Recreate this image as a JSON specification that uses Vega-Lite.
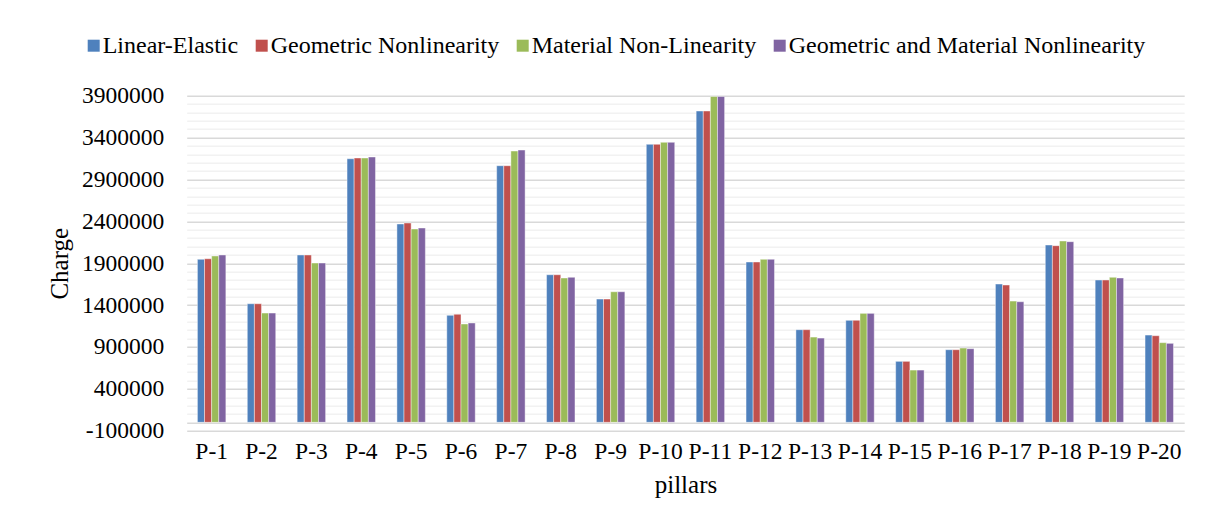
{
  "$schema": "https://vega.github.io/schema/vega-lite/v6.json",
  "autosize": {"type": "none"},
  "width": 997.5,
  "height": 335,
  "padding": {"left": 186.7, "top": 95.7, "right": 23.8, "bottom": 95.3},
  "background": "white",
  "config": {
    "font": "Liberation Serif",
    "view": {"stroke": null},
    "axis": {"labelFont": "Liberation Serif", "titleFont": "Liberation Serif", "labelColor": "#000000", "titleColor": "#000000", "titleFontWeight": "normal"},
    "legend": {"labelFont": "Liberation Serif", "labelColor": "#000000"}
  },
  "data": {
    "values": [
      {"pillar": "P-1", "model": "Linear-Elastic", "charge": 1946000},
      {"pillar": "P-1", "model": "Geometric Nonlinearity", "charge": 1953000},
      {"pillar": "P-1", "model": "Material Non-Linearity", "charge": 1986000},
      {"pillar": "P-1", "model": "Geometric and Material Nonlinearity", "charge": 1998000},
      {"pillar": "P-2", "model": "Linear-Elastic", "charge": 1416000},
      {"pillar": "P-2", "model": "Geometric Nonlinearity", "charge": 1416000},
      {"pillar": "P-2", "model": "Material Non-Linearity", "charge": 1305000},
      {"pillar": "P-2", "model": "Geometric and Material Nonlinearity", "charge": 1305000},
      {"pillar": "P-3", "model": "Linear-Elastic", "charge": 1998000},
      {"pillar": "P-3", "model": "Geometric Nonlinearity", "charge": 1998000},
      {"pillar": "P-3", "model": "Material Non-Linearity", "charge": 1902000},
      {"pillar": "P-3", "model": "Geometric and Material Nonlinearity", "charge": 1902000},
      {"pillar": "P-4", "model": "Linear-Elastic", "charge": 3147000},
      {"pillar": "P-4", "model": "Geometric Nonlinearity", "charge": 3156000},
      {"pillar": "P-4", "model": "Material Non-Linearity", "charge": 3156000},
      {"pillar": "P-4", "model": "Geometric and Material Nonlinearity", "charge": 3168000},
      {"pillar": "P-5", "model": "Linear-Elastic", "charge": 2368000},
      {"pillar": "P-5", "model": "Geometric Nonlinearity", "charge": 2380000},
      {"pillar": "P-5", "model": "Material Non-Linearity", "charge": 2308000},
      {"pillar": "P-5", "model": "Geometric and Material Nonlinearity", "charge": 2320000},
      {"pillar": "P-6", "model": "Linear-Elastic", "charge": 1278000},
      {"pillar": "P-6", "model": "Geometric Nonlinearity", "charge": 1290000},
      {"pillar": "P-6", "model": "Material Non-Linearity", "charge": 1174000},
      {"pillar": "P-6", "model": "Geometric and Material Nonlinearity", "charge": 1186000},
      {"pillar": "P-7", "model": "Linear-Elastic", "charge": 3064000},
      {"pillar": "P-7", "model": "Geometric Nonlinearity", "charge": 3064000},
      {"pillar": "P-7", "model": "Material Non-Linearity", "charge": 3239000},
      {"pillar": "P-7", "model": "Geometric and Material Nonlinearity", "charge": 3251000},
      {"pillar": "P-8", "model": "Linear-Elastic", "charge": 1762000},
      {"pillar": "P-8", "model": "Geometric Nonlinearity", "charge": 1762000},
      {"pillar": "P-8", "model": "Material Non-Linearity", "charge": 1723000},
      {"pillar": "P-8", "model": "Geometric and Material Nonlinearity", "charge": 1731000},
      {"pillar": "P-9", "model": "Linear-Elastic", "charge": 1472000},
      {"pillar": "P-9", "model": "Geometric Nonlinearity", "charge": 1472000},
      {"pillar": "P-9", "model": "Material Non-Linearity", "charge": 1559000},
      {"pillar": "P-9", "model": "Geometric and Material Nonlinearity", "charge": 1559000},
      {"pillar": "P-10", "model": "Linear-Elastic", "charge": 3319000},
      {"pillar": "P-10", "model": "Geometric Nonlinearity", "charge": 3319000},
      {"pillar": "P-10", "model": "Material Non-Linearity", "charge": 3343000},
      {"pillar": "P-10", "model": "Geometric and Material Nonlinearity", "charge": 3343000},
      {"pillar": "P-11", "model": "Linear-Elastic", "charge": 3717000},
      {"pillar": "P-11", "model": "Geometric Nonlinearity", "charge": 3717000},
      {"pillar": "P-11", "model": "Material Non-Linearity", "charge": 3890000},
      {"pillar": "P-11", "model": "Geometric and Material Nonlinearity", "charge": 3890000},
      {"pillar": "P-12", "model": "Linear-Elastic", "charge": 1914000},
      {"pillar": "P-12", "model": "Geometric Nonlinearity", "charge": 1914000},
      {"pillar": "P-12", "model": "Material Non-Linearity", "charge": 1946000},
      {"pillar": "P-12", "model": "Geometric and Material Nonlinearity", "charge": 1946000},
      {"pillar": "P-13", "model": "Linear-Elastic", "charge": 1106000},
      {"pillar": "P-13", "model": "Geometric Nonlinearity", "charge": 1106000},
      {"pillar": "P-13", "model": "Material Non-Linearity", "charge": 1018000},
      {"pillar": "P-13", "model": "Geometric and Material Nonlinearity", "charge": 1006000},
      {"pillar": "P-14", "model": "Linear-Elastic", "charge": 1218000},
      {"pillar": "P-14", "model": "Geometric Nonlinearity", "charge": 1218000},
      {"pillar": "P-14", "model": "Material Non-Linearity", "charge": 1301000},
      {"pillar": "P-14", "model": "Geometric and Material Nonlinearity", "charge": 1301000},
      {"pillar": "P-15", "model": "Linear-Elastic", "charge": 728000},
      {"pillar": "P-15", "model": "Geometric Nonlinearity", "charge": 728000},
      {"pillar": "P-15", "model": "Material Non-Linearity", "charge": 624000},
      {"pillar": "P-15", "model": "Geometric and Material Nonlinearity", "charge": 624000},
      {"pillar": "P-16", "model": "Linear-Elastic", "charge": 867000},
      {"pillar": "P-16", "model": "Geometric Nonlinearity", "charge": 867000},
      {"pillar": "P-16", "model": "Material Non-Linearity", "charge": 887000},
      {"pillar": "P-16", "model": "Geometric and Material Nonlinearity", "charge": 879000},
      {"pillar": "P-17", "model": "Linear-Elastic", "charge": 1651000},
      {"pillar": "P-17", "model": "Geometric Nonlinearity", "charge": 1639000},
      {"pillar": "P-17", "model": "Material Non-Linearity", "charge": 1448000},
      {"pillar": "P-17", "model": "Geometric and Material Nonlinearity", "charge": 1440000},
      {"pillar": "P-18", "model": "Linear-Elastic", "charge": 2117000},
      {"pillar": "P-18", "model": "Geometric Nonlinearity", "charge": 2109000},
      {"pillar": "P-18", "model": "Material Non-Linearity", "charge": 2165000},
      {"pillar": "P-18", "model": "Geometric and Material Nonlinearity", "charge": 2157000},
      {"pillar": "P-19", "model": "Linear-Elastic", "charge": 1699000},
      {"pillar": "P-19", "model": "Geometric Nonlinearity", "charge": 1699000},
      {"pillar": "P-19", "model": "Material Non-Linearity", "charge": 1731000},
      {"pillar": "P-19", "model": "Geometric and Material Nonlinearity", "charge": 1723000},
      {"pillar": "P-20", "model": "Linear-Elastic", "charge": 1042000},
      {"pillar": "P-20", "model": "Geometric Nonlinearity", "charge": 1034000},
      {"pillar": "P-20", "model": "Material Non-Linearity", "charge": 951000},
      {"pillar": "P-20", "model": "Geometric and Material Nonlinearity", "charge": 943000}
    ]
  },
  "mark": {"type": "bar", "stroke": "white", "strokeWidth": 0.6, "strokeOpacity": 0.7},
  "encoding": {
    "x": {
      "field": "pillar", "type": "nominal", "sort": null,
      "scale": {"paddingInner": 0.43, "paddingOuter": 0.215},
      "axis": {"title": "pillars", "labelAngle": 0, "labelFontSize": 23.5, "titleFontSize": 25, "ticks": false, "domain": false, "labelPadding": 9, "titlePadding": 9, "grid": false}
    },
    "xOffset": {
      "field": "model", "type": "nominal",
      "sort": ["Linear-Elastic", "Geometric Nonlinearity", "Material Non-Linearity", "Geometric and Material Nonlinearity"],
      "scale": {"paddingInner": 0, "paddingOuter": 0}
    },
    "y": {
      "field": "charge", "type": "quantitative",
      "scale": {"domain": [-100000, 3900000], "nice": false, "zero": false},
      "axis": {
        "title": "Charge", "titleFontSize": 25, "labelFontSize": 23.5, "ticks": false, "domain": false,
        "labelPadding": 23, "titlePadding": 9,
        "values": [-100000, 0, 100000, 200000, 300000, 400000, 500000, 600000, 700000, 800000, 900000, 1000000, 1100000, 1200000, 1300000, 1400000, 1500000, 1600000, 1700000, 1800000, 1900000, 2000000, 2100000, 2200000, 2300000, 2400000, 2500000, 2600000, 2700000, 2800000, 2900000, 3000000, 3100000, 3200000, 3300000, 3400000, 3500000, 3600000, 3700000, 3800000, 3900000],
        "labelExpr": "(datum.value + 100000) % 500000 === 0 ? ('' + datum.value) : ''",
        "labelOverlap": false,
        "gridColor": {"condition": {"test": "(datum.value + 100000) % 500000 === 0 || datum.value === 0", "value": "#d9d9d9"}, "value": "#f2f2f2"},
        "gridWidth": 1.4
      }
    },
    "color": {
      "field": "model", "type": "nominal",
      "scale": {
        "domain": ["Linear-Elastic", "Geometric Nonlinearity", "Material Non-Linearity", "Geometric and Material Nonlinearity"],
        "range": ["#4F81BD", "#C0504D", "#9BBB59", "#8064A2"]
      },
      "legend": {
        "title": null, "orient": "none", "direction": "horizontal",
        "legendX": -105, "legendY": -62,
        "symbolType": "square", "symbolSize": 144, "symbolStrokeWidth": 0,
        "labelFontSize": 24, "labelOffset": -3, "columnPadding": 11, "labelLimit": 600
      }
    }
  }
}
